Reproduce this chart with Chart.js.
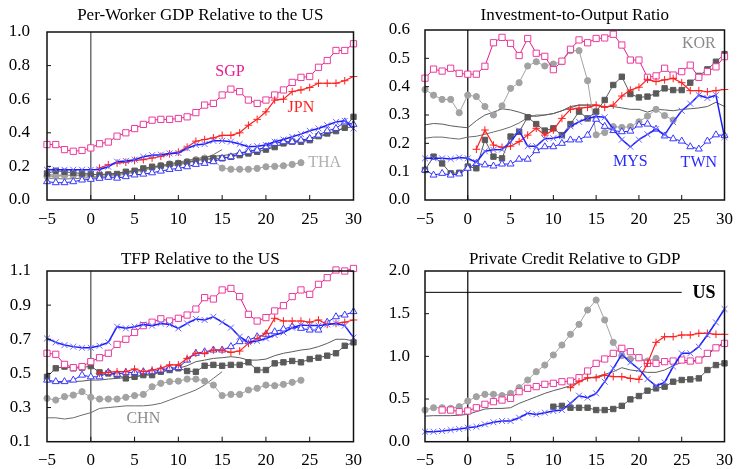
<!DOCTYPE html>
<html>
<head>
<meta charset="utf-8">
<script src="https://cdn.jsdelivr.net/npm/chart.js@4.4.1/dist/chart.umd.min.js"></script>
<style>
    body { margin: 0; background: #fff; overflow: hidden; }
    canvas { position: absolute; }
</style>
</head>
<body>
<canvas id="panelGdp" width="371" height="235" style="left:0;top:0"></canvas>
<canvas id="panelInv" width="371" height="235" style="left:371px;top:0"></canvas>
<canvas id="panelTfp" width="371" height="234" style="left:0;top:235px"></canvas>
<canvas id="panelCredit" width="371" height="234" style="left:371px;top:235px"></canvas>
<script>
// Años relativos al inicio (eje x común)
const years = [-5, -4, -3, -2, -1, 0, 1, 2, 3, 4, 5, 6, 7, 8, 9, 10, 11, 12, 13, 14, 15,
               16, 17, 18, 19, 20, 21, 22, 23, 24, 25, 26, 27, 28, 29, 30];

// Panel 1: PIB por trabajador relativo a EE.UU.
const gdpSGP = [0.33, 0.33, 0.30, 0.29, 0.295, 0.31, 0.335, 0.345, 0.38, 0.40, 0.425, 0.45, 0.475, 0.48, 0.48, 0.485, 0.495, 0.52, 0.565, 0.575, 0.625, 0.66, 0.645, 0.595, 0.575, 0.595, 0.625, 0.655, 0.70, 0.73, 0.735, 0.79, 0.83, 0.89, 0.89, 0.93];
const gdpJPN = [null, null, null, null, null, null, 0.19, 0.21, 0.22, 0.225, 0.235, 0.24, 0.25, 0.26, 0.275, 0.285, 0.315, 0.35, 0.36, 0.37, 0.385, 0.385, 0.40, 0.445, 0.48, 0.525, 0.595, 0.60, 0.645, 0.655, 0.67, 0.695, 0.695, 0.695, 0.71, 0.735];
const gdpMYS = [0.18, 0.18, 0.18, 0.18, 0.18, 0.18, 0.182, 0.198, 0.228, 0.232, 0.24, 0.257, 0.267, 0.27, 0.277, 0.28, 0.307, 0.327, 0.333, 0.352, 0.352, 0.347, 0.333, 0.317, 0.32, 0.327, 0.347, 0.36, 0.376, 0.392, 0.412, 0.426, 0.445, 0.465, 0.471, 0.426];
const gdpTWN = [0.109, 0.103, 0.103, 0.109, 0.119, 0.123, 0.129, 0.135, 0.13, 0.139, 0.149, 0.154, 0.162, 0.172, 0.182, 0.188, 0.198, 0.212, 0.218, 0.228, 0.248, 0.257, 0.277, 0.287, 0.297, 0.317, 0.337, 0.347, 0.347, 0.356, 0.366, 0.386, 0.412, 0.426, 0.465, 0.45];
const gdpKOR = [0.158, 0.174, 0.168, 0.162, 0.158, 0.155, 0.149, 0.152, 0.155, 0.168, 0.174, 0.188, 0.198, 0.204, 0.212, 0.218, 0.224, 0.234, 0.242, 0.248, 0.248, 0.257, 0.267, 0.277, 0.287, 0.30, 0.315, 0.337, 0.347, 0.347, 0.356, 0.38, 0.396, 0.41, 0.43, 0.495];
const gdpTHA = [0.14, 0.14, 0.145, 0.145, 0.145, 0.14, 0.14, 0.14, 0.145, 0.155, 0.165, 0.175, 0.19, 0.205, 0.215, 0.22, 0.23, 0.24, 0.25, 0.235, 0.19, 0.183, 0.183, 0.183, 0.188, 0.198, 0.2, 0.204, 0.212, 0.222, null, null, null, null, null, null];
const gdpCHN = [0.13, 0.128, 0.125, 0.127, 0.13, 0.133, 0.138, 0.145, 0.15, 0.16, 0.17, 0.18, 0.19, 0.2, 0.205, 0.21, 0.22, 0.235, 0.25, 0.27, 0.30, null, null, null, null, null, null, null, null, null, null, null, null, null, null, null];
const gdpAVG = [0.15, 0.148, 0.147, 0.147, 0.148, 0.15, 0.152, 0.155, 0.16, 0.168, 0.175, 0.185, 0.195, 0.205, 0.215, 0.225, 0.235, 0.245, 0.255, 0.26, 0.265, 0.27, 0.28, 0.29, 0.30, 0.31, 0.32, 0.33, 0.34, 0.35, 0.36, 0.375, 0.39, 0.41, 0.43, 0.435];

// Panel 2: inversión sobre producto
const invSGP = [0.43, 0.462, 0.455, 0.465, 0.447, 0.444, 0.444, 0.472, 0.555, 0.574, 0.553, 0.51, 0.57, 0.518, 0.507, 0.46, 0.49, 0.532, 0.565, 0.555, 0.57, 0.572, 0.585, 0.547, 0.494, 0.494, 0.433, 0.438, 0.465, 0.441, 0.453, 0.476, 0.433, 0.453, 0.47, 0.506];
const invKOR = [0.106, 0.153, 0.129, 0.094, 0.096, 0.118, 0.112, 0.212, 0.153, 0.147, 0.224, 0.241, 0.292, 0.268, 0.245, 0.253, 0.229, 0.268, 0.312, 0.288, 0.312, 0.353, 0.406, 0.435, 0.374, 0.362, 0.365, 0.376, 0.394, 0.388, 0.388, 0.414, 0.438, 0.461, 0.488, 0.515];
const invTHA = [0.39, 0.37, 0.355, 0.355, 0.308, 0.37, 0.365, 0.33, 0.30, 0.332, 0.394, 0.414, 0.473, 0.488, 0.473, 0.48, 0.488, 0.527, 0.527, 0.421, 0.23, 0.238, 0.259, 0.256, 0.259, 0.276, 0.296, 0.32, 0.298, 0.282, null, null, null, null, null, null];
const invMYS = [0.147, 0.147, 0.147, 0.145, 0.15, 0.147, 0.133, 0.172, 0.177, 0.178, 0.205, 0.245, 0.19, 0.19, 0.216, 0.218, 0.225, 0.26, 0.276, 0.288, 0.295, 0.292, 0.25, 0.213, 0.188, 0.213, 0.232, 0.25, 0.23, 0.275, 0.315, 0.34, 0.37, 0.36, 0.37, 0.222];
const invTWN = [0.106, 0.088, 0.094, 0.088, 0.092, 0.112, 0.129, 0.124, 0.12, 0.127, 0.127, 0.144, 0.144, 0.174, 0.188, 0.188, 0.2, 0.212, 0.212, 0.229, 0.285, 0.26, 0.245, 0.241, 0.243, 0.265, 0.268, 0.25, 0.226, 0.216, 0.208, 0.188, 0.18, 0.208, 0.23, 0.228];
const invJPN = [null, null, null, null, null, null, 0.179, 0.247, 0.194, 0.186, 0.19, 0.206, 0.229, 0.253, 0.229, 0.247, 0.288, 0.32, 0.324, 0.327, 0.335, 0.327, 0.335, 0.367, 0.388, 0.398, 0.426, 0.418, 0.424, 0.429, 0.414, 0.386, 0.386, 0.382, 0.386, 0.39];
const invCHN = [0.218, 0.222, 0.222, 0.218, 0.215, 0.222, 0.225, 0.232, 0.24, 0.248, 0.258, 0.272, 0.29, 0.30, 0.30, 0.305, 0.315, 0.325, 0.335, 0.335, 0.335, null, null, null, null, null, null, null, null, null, null, null, null, null, null, null];
const invAVG = [0.265, 0.27, 0.268, 0.262, 0.258, 0.255, 0.28, 0.30, 0.31, 0.322, 0.318, 0.31, 0.30, 0.295, 0.30, 0.305, 0.315, 0.33, 0.335, 0.335, 0.335, 0.33, 0.33, 0.325, 0.32, 0.32, 0.31, 0.32, 0.318, 0.315, 0.32, 0.322, 0.325, 0.33, 0.345, 0.33];

// Panel 3: PTF relativa a EE.UU.
const tfpSGP = [0.618, 0.612, 0.553, 0.534, 0.54, 0.569, 0.592, 0.618, 0.67, 0.70, 0.74, 0.78, 0.80, 0.82, 0.807, 0.823, 0.842, 0.877, 0.944, 0.936, 0.989, 0.998, 0.95, 0.846, 0.807, 0.827, 0.866, 0.897, 0.95, 0.989, 0.963, 1.022, 1.061, 1.106, 1.10, 1.115];
const tfpMYS = [0.705, 0.682, 0.666, 0.657, 0.65, 0.65, 0.662, 0.682, 0.774, 0.764, 0.774, 0.787, 0.78, 0.793, 0.787, 0.764, 0.793, 0.819, 0.813, 0.832, 0.80, 0.768, 0.715, 0.682, 0.69, 0.705, 0.725, 0.74, 0.768, 0.783, 0.78, 0.78, 0.787, 0.793, 0.78, 0.71];
const tfpTWN = [0.461, 0.452, 0.452, 0.461, 0.49, 0.48, 0.48, 0.506, 0.495, 0.506, 0.506, 0.51, 0.51, 0.52, 0.53, 0.534, 0.578, 0.618, 0.627, 0.637, 0.637, 0.657, 0.686, 0.696, 0.715, 0.729, 0.744, 0.76, 0.774, 0.764, 0.754, 0.754, 0.80, 0.832, 0.842, 0.862];
const tfpJPN = [null, null, null, null, null, null, 0.50, 0.506, 0.51, 0.51, 0.526, 0.51, 0.52, 0.53, 0.55, 0.55, 0.588, 0.618, 0.618, 0.637, 0.637, 0.623, 0.631, 0.676, 0.705, 0.735, 0.823, 0.807, 0.807, 0.807, 0.80, 0.813, 0.787, 0.793, 0.80, 0.813];
const tfpKOR = [0.48, 0.53, 0.54, 0.53, 0.534, 0.543, 0.506, 0.50, 0.49, 0.471, 0.48, 0.49, 0.49, 0.51, 0.52, 0.53, 0.514, 0.51, 0.545, 0.55, 0.545, 0.55, 0.55, 0.565, 0.52, 0.52, 0.559, 0.565, 0.573, 0.565, 0.584, 0.592, 0.604, 0.618, 0.662, 0.682];
const tfpTHA = [0.354, 0.344, 0.364, 0.373, 0.393, 0.36, 0.35, 0.35, 0.35, 0.36, 0.37, 0.377, 0.422, 0.442, 0.452, 0.455, 0.467, 0.467, 0.455, 0.432, 0.37, 0.377, 0.377, 0.403, 0.413, 0.432, 0.428, 0.436, 0.448, 0.46, null, null, null, null, null, null];
const tfpAVG = [0.452, 0.448, 0.448, 0.452, 0.455, 0.461, 0.461, 0.467, 0.471, 0.475, 0.48, 0.49, 0.50, 0.51, 0.52, 0.53, 0.545, 0.569, 0.578, 0.588, 0.592, 0.598, 0.592, 0.578, 0.578, 0.584, 0.604, 0.618, 0.627, 0.637, 0.643, 0.657, 0.676, 0.70, 0.70, 0.69];
const tfpCHN = [0.24, 0.24, 0.233, 0.24, 0.256, 0.27, 0.295, 0.30, 0.305, 0.31, 0.31, 0.31, 0.315, 0.325, 0.344, 0.364, 0.383, 0.403, 0.432, 0.471, 0.51, null, null, null, null, null, null, null, null, null, null, null, null, null, null, null];

// Panel 4: crédito privado sobre PIB
const creditTHA = [0.371, 0.398, 0.398, 0.39, 0.41, 0.477, 0.527, 0.555, 0.555, 0.54, 0.566, 0.633, 0.723, 0.82, 0.898, 1.016, 1.133, 1.258, 1.375, 1.543, 1.66, 1.426, 1.164, 1.008, 0.969, 0.984, 0.945, 0.977, null, null, null, null, null, null, null, null];
const creditSGP = [null, null, 0.371, 0.371, 0.352, 0.36, 0.398, 0.438, 0.469, 0.488, 0.508, 0.586, 0.625, 0.645, 0.672, 0.684, 0.703, 0.711, 0.75, 0.828, 0.918, 0.969, 1.035, 1.094, 1.055, 0.984, 0.918, 0.918, 0.938, 0.945, 0.957, 0.945, 0.957, 1.035, 1.10, 1.152];
const creditJPN = [null, null, null, null, null, null, null, null, null, null, null, null, null, null, null, null, null, 0.633, 0.703, 0.75, 0.75, 0.78, 0.762, 0.762, 0.742, 0.73, 0.918, 1.164, 1.23, 1.23, 1.25, 1.25, 1.27, 1.27, 1.258, 1.258];
const creditMYS = [0.117, 0.117, 0.125, 0.137, 0.148, 0.164, 0.176, 0.203, 0.227, 0.242, 0.242, 0.281, 0.332, 0.32, 0.34, 0.359, 0.371, 0.449, 0.539, 0.516, 0.566, 0.703, 0.859, 1.023, 0.93, 0.852, 0.734, 0.655, 0.695, 0.879, 1.035, 1.035, 1.113, 1.25, 1.398, 1.555];
const creditKOR = [null, null, null, null, null, null, null, null, null, null, null, null, null, null, null, 0.41, 0.42, 0.398, 0.398, 0.398, 0.371, 0.371, 0.383, 0.42, 0.496, 0.535, 0.598, 0.625, 0.645, 0.703, 0.723, 0.73, 0.742, 0.84, 0.898, 0.918];
const creditAVG = [0.30, 0.305, 0.305, 0.305, 0.31, 0.32, 0.352, 0.383, 0.39, 0.39, 0.398, 0.449, 0.488, 0.527, 0.566, 0.598, 0.625, 0.656, 0.703, 0.742, 0.762, 0.789, 0.82, 0.867, 0.84, 0.828, 0.8125, 0.8125, 0.84, 0.89, 0.93, 0.93, 0.957, 1.023, 1.094, 1.18];
const creditUS = 1.75;
const creditUSRange = [-5, 25];

// Estilos por país
const seriesStyles = {
    MYS: { color: '#1c1cff', marker: '#6a6aff', point: 'crossRot', radius: 4.2, width: 1.5 },
    JPN: { color: '#ff2020', marker: '#ff2020', point: 'cross', radius: 3.8, width: 1.2 },
    SGP: { color: '#e8198b', marker: '#ea3c9c', fill: '#ffffff', point: 'rect', radius: 4.4, width: 1 },
    TWN: { color: '#2424ff', marker: '#3a3aff', fill: '#ffffff', point: 'triangle', radius: 4, width: 1 },
    KOR: { color: '#5a5a5a', marker: '#5a5a5a', fill: '#5a5a5a', point: 'rect', radius: 3.8, width: 1 },
    THA: { color: '#a2a2a2', marker: '#a2a2a2', fill: '#a2a2a2', point: 'circle', radius: 3.1, width: 1 },
    AVG: { color: '#5c5c5c', width: 1 },
    CHN: { color: '#6c6c6c', width: 1 }
};

const fontFamily = "'Liberation Serif', 'DejaVu Serif', serif";

/**
 * Construir dataset a partir de un array de valores
 */
function buildDataset(values, code) {
    const st = seriesStyles[code];
    const points = [];
    values.forEach((v, i) => {
        if (v !== null) {
            points.push({ x: years[i], y: v });
        }
    });
    return {
        label: code,
        data: points,
        borderColor: st.color,
        borderWidth: st.width,
        pointStyle: st.point || 'circle',
        pointRadius: st.point ? st.radius : 0,
        pointBackgroundColor: st.fill || st.marker,
        pointBorderColor: st.marker || st.color,
        pointBorderWidth: 1,
        tension: 0,
        fill: false,
        clip: false
    };
}

/**
 * Plugin: marco, línea en cero, ticks interiores, título y etiquetas
 */
const panelDeco = {
    id: 'panelDeco',
    beforeDatasetsDraw(chart, args, opts) {
        const { ctx, chartArea: a, scales: { x } } = chart;
        const px = x.getPixelForValue(0);
        ctx.save();
        ctx.strokeStyle = opts.zeroColor;
        ctx.lineWidth = opts.zeroWidth;
        ctx.beginPath();
        ctx.moveTo(px, a.top);
        ctx.lineTo(px, a.bottom);
        ctx.stroke();
        ctx.restore();
    },
    afterDraw(chart, args, opts) {
        const { ctx, chartArea: a, scales: { x, y } } = chart;
        ctx.save();

        // Marco
        ctx.strokeStyle = '#111';
        ctx.lineWidth = 1.5;
        ctx.strokeRect(a.left, a.top, a.right - a.left, a.bottom - a.top);

        // Ticks hacia dentro
        ctx.lineWidth = 1;
        ctx.beginPath();
        y.ticks.forEach(t => {
            const py = y.getPixelForValue(t.value);
            if (py > a.top + 2 && py < a.bottom - 2) {
                ctx.moveTo(a.left, py);
                ctx.lineTo(a.left + 4, py);
            }
        });
        x.ticks.forEach(t => {
            const px = x.getPixelForValue(t.value);
            if (px > a.left + 2 && px < a.right - 2) {
                ctx.moveTo(px, a.bottom);
                ctx.lineTo(px, a.bottom - 5);
            }
        });
        ctx.stroke();

        // Título
        ctx.fillStyle = '#000';
        ctx.font = `17px ${fontFamily}`;
        ctx.textAlign = 'center';
        ctx.textBaseline = 'alphabetic';
        ctx.fillText(opts.title, (a.left + a.right) / 2, opts.titleY);

        // Etiquetas de países
        ctx.textBaseline = 'middle';
        opts.labels.forEach(l => {
            ctx.fillStyle = l.color;
            ctx.font = `${l.bold ? 'bold 18px' : '16px'} ${fontFamily}`;
            ctx.fillText(l.text, x.getPixelForValue(l.x), y.getPixelForValue(l.y));
        });
        ctx.restore();
    }
};

/**
 * Crear un panel
 */
function createPanel(canvasId, cfg) {
    const canvas = document.getElementById(canvasId);
    if (!canvas) {
        console.warn(`Canvas ${canvasId} no encontrado`);
        return;
    }
    const ctx = canvas.getContext('2d');
    const tickFont = { family: fontFamily, size: 17 };

    return new Chart(ctx, {
        type: 'line',
        data: { datasets: cfg.datasets },
        options: {
            responsive: false,
            animation: false,
            layout: {
                padding: { top: cfg.top, right: cfg.right, left: 0, bottom: 0 }
            },
            plugins: {
                legend: { display: false },
                tooltip: { enabled: false },
                title: { display: false },
                panelDeco: {
                    title: cfg.title,
                    titleY: cfg.titleY,
                    zeroColor: cfg.zeroColor,
                    zeroWidth: cfg.zeroWidth,
                    labels: cfg.labels
                }
            },
            scales: {
                x: {
                    type: 'linear',
                    min: -5,
                    max: 30,
                    grid: { display: false, drawTicks: false },
                    border: { display: false },
                    ticks: {
                        stepSize: 5,
                        padding: 9,
                        color: '#000',
                        font: tickFont,
                        maxRotation: 0,
                        autoSkip: false,
                        callback: v => v < 0 ? '\u2212' + Math.abs(v) : String(v)
                    },
                    afterFit: scale => { scale.height = cfg.xAxisH; }
                },
                y: {
                    type: 'linear',
                    min: cfg.yMin,
                    max: cfg.yMax,
                    grid: { display: false, drawTicks: false },
                    border: { display: false },
                    ticks: {
                        stepSize: cfg.yStep,
                        padding: cfg.yPad,
                        color: '#000',
                        font: tickFont,
                        callback: v => v.toFixed(1)
                    },
                    afterFit: scale => { scale.width = cfg.yAxisW; }
                }
            }
        },
        plugins: [panelDeco]
    });
}

const colSGP = '#e8198b';
const colJPN = '#ff2020';
const colBlue = '#2a2aff';
const colGray = '#8a8a8a';

createPanel('panelGdp', {
    title: 'Per-Worker GDP Relative to the US', titleY: 20,
    top: 32, right: 17, yAxisW: 47, xAxisH: 35, yPad: 17,
    yMin: 0, yMax: 1.0, yStep: 0.2,
    zeroColor: '#6e6e6e', zeroWidth: 1.5,
    datasets: [
        buildDataset(gdpMYS, 'MYS'), buildDataset(gdpJPN, 'JPN'), buildDataset(gdpSGP, 'SGP'),
        buildDataset(gdpTWN, 'TWN'), buildDataset(gdpKOR, 'KOR'), buildDataset(gdpTHA, 'THA'),
        buildDataset(gdpAVG, 'AVG'), buildDataset(gdpCHN, 'CHN')
    ],
    labels: [
        { text: 'SGP', x: 15.9, y: 0.762, color: colSGP },
        { text: 'JPN', x: 24.0, y: 0.551, color: colJPN },
        { text: 'THA', x: 26.7, y: 0.224, color: '#b0b0b0' }
    ]
});

createPanel('panelInv', {
    title: 'Investment-to-Output Ratio', titleY: 19.5,
    top: 30, right: 9, yAxisW: 54, xAxisH: 35, yPad: 15,
    yMin: 0, yMax: 0.6, yStep: 0.1,
    zeroColor: '#000', zeroWidth: 1.2,
    datasets: [
        buildDataset(invMYS, 'MYS'), buildDataset(invJPN, 'JPN'), buildDataset(invSGP, 'SGP'),
        buildDataset(invTWN, 'TWN'), buildDataset(invKOR, 'KOR'), buildDataset(invTHA, 'THA'),
        buildDataset(invAVG, 'AVG'), buildDataset(invCHN, 'CHN')
    ],
    labels: [
        { text: 'KOR', x: 27.0, y: 0.551, color: colGray },
        { text: 'MYS', x: 19.0, y: 0.135, color: colBlue },
        { text: 'TWN', x: 27.0, y: 0.13, color: colBlue }
    ]
});

createPanel('panelTfp', {
    title: 'TFP Relative to the US', titleY: 29,
    top: 36, right: 17, yAxisW: 47, xAxisH: 27.3, yPad: 16,
    yMin: 0.1, yMax: 1.1, yStep: 0.2,
    zeroColor: '#6e6e6e', zeroWidth: 1.5,
    datasets: [
        buildDataset(tfpMYS, 'MYS'), buildDataset(tfpJPN, 'JPN'), buildDataset(tfpSGP, 'SGP'),
        buildDataset(tfpTWN, 'TWN'), buildDataset(tfpKOR, 'KOR'), buildDataset(tfpTHA, 'THA'),
        buildDataset(tfpAVG, 'AVG'), buildDataset(tfpCHN, 'CHN')
    ],
    labels: [
        { text: 'CHN', x: 6.0, y: 0.237, color: colGray }
    ]
});

// Línea de referencia de EE.UU.
const usLine = {
    label: 'US',
    data: creditUSRange.map(v => ({ x: v, y: creditUS })),
    borderColor: '#000',
    borderWidth: 1,
    pointRadius: 0,
    fill: false
};

createPanel('panelCredit', {
    title: 'Private Credit Relative to GDP', titleY: 28.5,
    top: 36, right: 9, yAxisW: 54, xAxisH: 27.3, yPad: 15,
    yMin: 0, yMax: 2.0, yStep: 0.5,
    zeroColor: '#000', zeroWidth: 1.2,
    datasets: [
        usLine,
        buildDataset(creditMYS, 'MYS'), buildDataset(creditJPN, 'JPN'), buildDataset(creditSGP, 'SGP'),
        buildDataset(creditKOR, 'KOR'), buildDataset(creditTHA, 'THA'), buildDataset(creditAVG, 'AVG')
    ],
    labels: [
        { text: 'US', x: 27.6, y: 1.74, color: '#000', bold: true }
    ]
});
</script>
</body>
</html>
